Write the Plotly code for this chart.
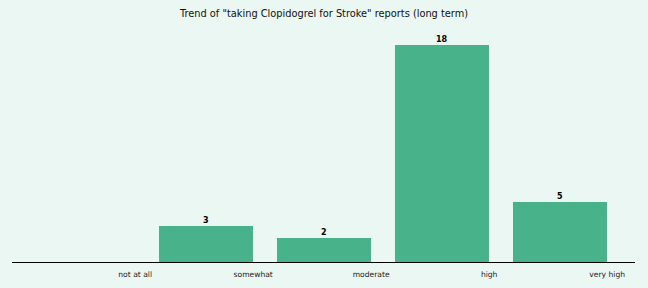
import plotly.graph_objects as go

categories = ["not at all", "somewhat", "moderate", "high", "very high"]
values = [0, 3, 2, 18, 5]

x_pos = list(range(len(categories)))
tick_pos = [i + 0.4 for i in x_pos]

fig = go.Figure(go.Bar(
    x=x_pos, y=values, width=0.8,
    marker=dict(color="#48b38a", line=dict(width=0)),
))

for xi, v in zip(x_pos, values):
    if v > 0:
        fig.add_annotation(x=xi, y=v, text=f"<b>{v}</b>", showarrow=False,
                           yanchor="bottom", yshift=-1,
                           font=dict(family="DejaVu Sans", size=8, color="#000000"))

fig.update_layout(
    width=648, height=288,
    margin=dict(l=12, r=13, t=21, b=26),
    paper_bgcolor="#eaf7f3", plot_bgcolor="#eaf7f3",
    showlegend=False,
    title=dict(text='Trend of "taking Clopidogrel for Stroke" reports (long term)',
               x=0.5, xanchor="center", y=1 - 14/288, yanchor="middle",
               font=dict(family="DejaVu Sans", size=9.8, color="#111111")),
    font=dict(family="DejaVu Sans"),
    bargap=0,
)
fig.update_xaxes(range=[-0.644, 4.636], tickvals=tick_pos, ticktext=categories,
                 tickfont=dict(size=7.6, color="#222222"), showgrid=False,
                 showline=True, linecolor="#000000", linewidth=1.2, ticks="",
                 ticklabelstandoff=5, zeroline=False, automargin=False)
fig.update_yaxes(range=[0, 20], visible=False, showgrid=False, zeroline=False,
                 automargin=False)

fig.write_html("out.html")
